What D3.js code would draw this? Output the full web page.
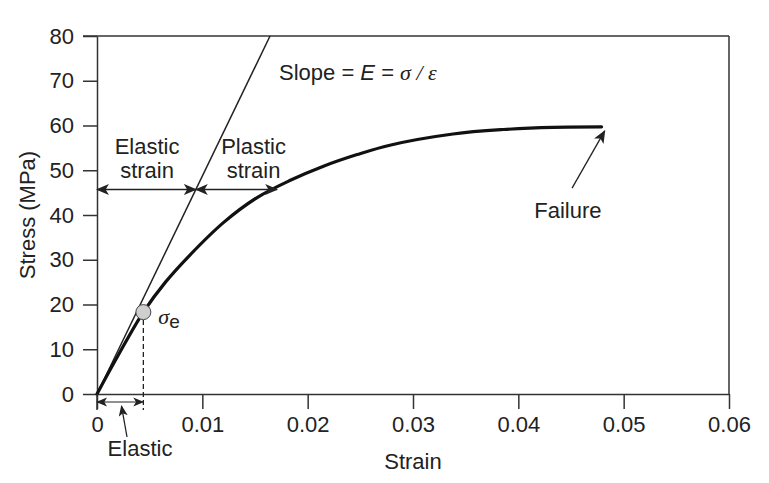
<!DOCTYPE html>
<html>
<head>
<meta charset="utf-8">
<script src="https://cdn.jsdelivr.net/npm/d3@7"></script>
<style>
  body { margin: 0; background: #fff; }
  svg text { font-family: "Liberation Sans", Arial, sans-serif; fill: #222; }
</style>
</head>
<body>
<svg width="769" height="483"></svg>
<script>
// stress-strain curve
let strain = [0, 0.002, 0.0044, 0.0065, 0.0088, 0.012, 0.0152, 0.0183, 0.0215, 0.0247, 0.0278, 0.0338, 0.0386, 0.0433, 0.0479]
let stress = [0, 8.6, 18.3, 25.0, 31.0, 38.3, 43.9, 47.7, 50.9, 53.5, 55.6, 58.1, 59.1, 59.6, 59.7]

let xTicks = [0, 0.01, 0.02, 0.03, 0.04, 0.05, 0.06]
let yTicks = [0, 10, 20, 30, 40, 50, 60, 70, 80]

let modulus = 4870       // slope of the elastic line, MPa
let elasticPoint = [0.0044, 18.3]   // sigma_e
let strainLevel = 45.7   // height of the elastic/plastic strain arrows
let plasticEnd = 0.0171  // where the plastic arrow meets the curve
let failureTail = [0.0451, 46.0]
let failureHead = [0.0482, 58.8]

const w = 769
const h = 483
const fs = '22px'
const svg = d3.select('svg')

const x = d3.scaleLinear().domain([0, 0.06]).range([97, 729])
const y = d3.scaleLinear().domain([0, 80]).range([394, 36])

const ink = '#222'

// arrow heads
const defs = svg.append('defs')
const addMarker = (id, size) => {
    defs.append('marker')
        .attr('id', id)
        .attr('viewBox', '0 0 12 10')
        .attr('refX', 11)
        .attr('refY', 5)
        .attr('markerWidth', size)
        .attr('markerHeight', size * 10 / 12)
        .attr('markerUnits', 'userSpaceOnUse')
        .attr('orient', 'auto-start-reverse')
        .append('path')
        .attr('d', 'M0,0 L12,5 L0,10 L3,5 Z')
        .attr('fill', ink)
}
addMarker('arr', 13)
addMarker('arrSmall', 11)

// axes
const yAxis = d3.axisLeft(y).tickValues(yTicks).tickSize(14).tickSizeOuter(0).tickPadding(9)
const gy = svg.append('g').attr('transform', 'translate(' + x(0) + ',0)').call(yAxis)

const xAxis = d3.axisBottom(x).tickValues(xTicks).tickSize(15).tickSizeOuter(0).tickPadding(7)
    .tickFormat(d => d === 0 ? '0' : d3.format('.2f')(d))
const gx = svg.append('g').attr('transform', 'translate(0,' + y(0) + ')').call(xAxis)

;[gx, gy].forEach(g => {
    g.select('.domain').attr('stroke', '#333').attr('stroke-width', 1.5)
    g.selectAll('.tick line').attr('stroke', '#333').attr('stroke-width', 1.5)
    g.selectAll('.tick text').style('font-size', fs).attr('fill', ink)
})

// frame top and right
svg.append('line')
    .attr('x1', x(0) - 14).attr('x2', x(0.06))
    .attr('y1', y(80)).attr('y2', y(80))
    .attr('stroke', '#333').attr('stroke-width', 1.5)
svg.append('line')
    .attr('x1', x(0.06)).attr('x2', x(0.06))
    .attr('y1', y(80)).attr('y2', y(0))
    .attr('stroke', '#333').attr('stroke-width', 1.5)

// axis titles
svg.append('text')
    .attr('transform', 'translate(35,' + ((y(0) + y(80)) / 2) + ') rotate(-90)')
    .attr('text-anchor', 'middle')
    .style('font-size', fs)
    .text('Stress (MPa)')

svg.append('text')
    .attr('x', x(0.03)).attr('y', 469)
    .attr('text-anchor', 'middle')
    .style('font-size', fs)
    .text('Strain')

// elastic slope line
svg.append('line')
    .attr('x1', x(0)).attr('y1', y(0))
    .attr('x2', x(80 / modulus)).attr('y2', y(80))
    .attr('stroke', ink).attr('stroke-width', 1.5)

// the curve
const pts = strain.map((s, i) => [s, stress[i]])
svg.append('path')
    .datum(pts)
    .attr('fill', 'none')
    .attr('stroke', '#111')
    .attr('stroke-width', 3.2)
    .attr('stroke-linecap', 'round')
    .attr('d', d3.line().x(d => x(d[0])).y(d => y(d[1])).curve(d3.curveCatmullRom.alpha(0.5)))

// dashed drop from sigma_e
svg.append('line')
    .attr('x1', x(elasticPoint[0])).attr('x2', x(elasticPoint[0]))
    .attr('y1', y(elasticPoint[1])).attr('y2', y(0) + 16)
    .attr('stroke', ink).attr('stroke-width', 1.3)
    .attr('stroke-dasharray', '5,3')

svg.append('circle')
    .attr('cx', x(elasticPoint[0])).attr('cy', y(elasticPoint[1]))
    .attr('r', 7.5)
    .attr('fill', '#cfcfcf')
    .attr('stroke', '#444').attr('stroke-width', 1)

const sig = svg.append('text')
    .attr('x', x(elasticPoint[0]) + 15).attr('y', y(elasticPoint[1]) + 12)
    .style('font-size', fs)
sig.append('tspan').text('σ')
    .style('font-family', '"Liberation Serif", serif').style('font-style', 'italic')
sig.append('tspan').text('e').attr('dy', 4).style('font-size', '19px')

// elastic / plastic strain arrows
const arrowLine = (x1, y1, x2, y2, both, marker, sw) => {
    const l = svg.append('line')
        .attr('x1', x1).attr('y1', y1).attr('x2', x2).attr('y2', y2)
        .attr('stroke', ink).attr('stroke-width', sw)
        .attr('marker-end', 'url(#' + marker + ')')
    if (both) l.attr('marker-start', 'url(#' + marker + ')')
}
const crossX = x(strainLevel / modulus)
arrowLine(x(0), y(strainLevel), crossX, y(strainLevel), true, 'arr', 1.3)
arrowLine(crossX, y(strainLevel), x(plasticEnd), y(strainLevel), true, 'arr', 1.3)

const label2 = (cx, l1, l2) => {
    svg.append('text').attr('x', cx).attr('y', y(strainLevel) - 35)
        .attr('text-anchor', 'middle').style('font-size', fs).text(l1)
    svg.append('text').attr('x', cx).attr('y', y(strainLevel) - 11)
        .attr('text-anchor', 'middle').style('font-size', fs).text(l2)
}
label2(x(0.00475), 'Elastic', 'strain')
label2(x(0.01486), 'Plastic', 'strain')

// slope formula
const slope = svg.append('text')
    .attr('x', 279).attr('y', 80)
    .style('font-size', fs)
slope.append('tspan').text('Slope = ')
slope.append('tspan').text('E').style('font-style', 'italic')
slope.append('tspan').text(' = ')
slope.append('tspan').text('σ / ε')
    .style('font-family', '"Liberation Serif", serif').style('font-style', 'italic')

// failure pointer
arrowLine(x(failureTail[0]), y(failureTail[1]), x(failureHead[0]), y(failureHead[1]), false, 'arr', 1.3)
svg.append('text')
    .attr('x', x(0.0447)).attr('y', 218)
    .attr('text-anchor', 'middle').style('font-size', fs)
    .text('Failure')

// elastic bracket under the axis
svg.append('line')
    .attr('x1', x(0)).attr('x2', x(0))
    .attr('y1', y(0)).attr('y2', y(0) + 16)
    .attr('stroke', '#333').attr('stroke-width', 1.5)
arrowLine(x(0), y(0) + 8, x(elasticPoint[0]), y(0) + 8, true, 'arrSmall', 1.2)
arrowLine(127, 437, 121.5, 406, false, 'arrSmall', 1.3)
svg.append('text')
    .attr('x', 140).attr('y', 456)
    .attr('text-anchor', 'middle').style('font-size', fs)
    .text('Elastic')
</script>
</body>
</html>
